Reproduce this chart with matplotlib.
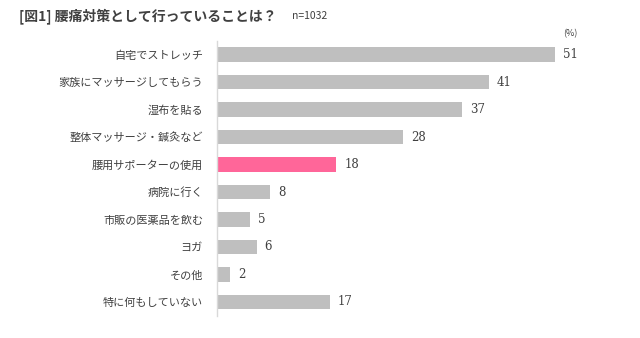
import matplotlib
matplotlib.use('Agg')
import matplotlib.pyplot as plt

plt.rcParams['font.family'] = ['Noto Sans CJK JP', 'DejaVu Sans']

# data
labels = ['自宅でストレッチ', '家族にマッサージしてもらう', '湿布を貼る', '整体マッサージ・鍼灸など',
          '腰用サポーターの使用', '病院に行く', '市販の医薬品を飲む', 'ヨガ', 'その他', '特に何もしていない']
values = [51, 41, 37, 28, 18, 8, 5, 6, 2, 17]
highlight = '腰用サポーターの使用'

gray = '#BFBFBF'
pink = '#FF6699'
txt = '#404040'

fig = plt.figure(figsize=(6.4, 3.38), dpi=100)
ax = fig.add_axes([0.339, 0.066, 0.622, 0.813])

colors = [pink if l == highlight else gray for l in labels]
ypos = range(len(labels))
ax.barh(ypos, values, height=0.53, color=colors)
ax.set_ylim(len(labels) - 0.5, -0.5)
ax.set_xlim(0, 60)

for y, v in zip(ypos, values):
    ax.text(v + 1.2, y, str(v), va='center', ha='left', fontsize=8.5,
            family='DejaVu Serif', color=txt)

ax.set_yticks(list(ypos))
ax.set_yticklabels(labels, fontsize=8, color=txt)
ax.tick_params(axis='y', length=0, pad=10)
ax.set_xticks([])
for s in ['top', 'right', 'bottom']:
    ax.spines[s].set_visible(False)
ax.spines['left'].set_color('#D9D9D9')
ax.spines['left'].set_linewidth(1)

fig.text(0.03, 0.952, '[図1] 腰痛対策として行っていることは？', fontsize=10, fontweight='bold',
         color=txt, va='center', ha='left')
fig.text(0.456, 0.952, 'n=1032', fontsize=7.5, color=txt, va='center', ha='left')
ax.text(51 + 1.2, -0.75, '(%)', fontsize=6.5, color=txt, va='center', ha='left')

fig.savefig('out.png', dpi=100)
